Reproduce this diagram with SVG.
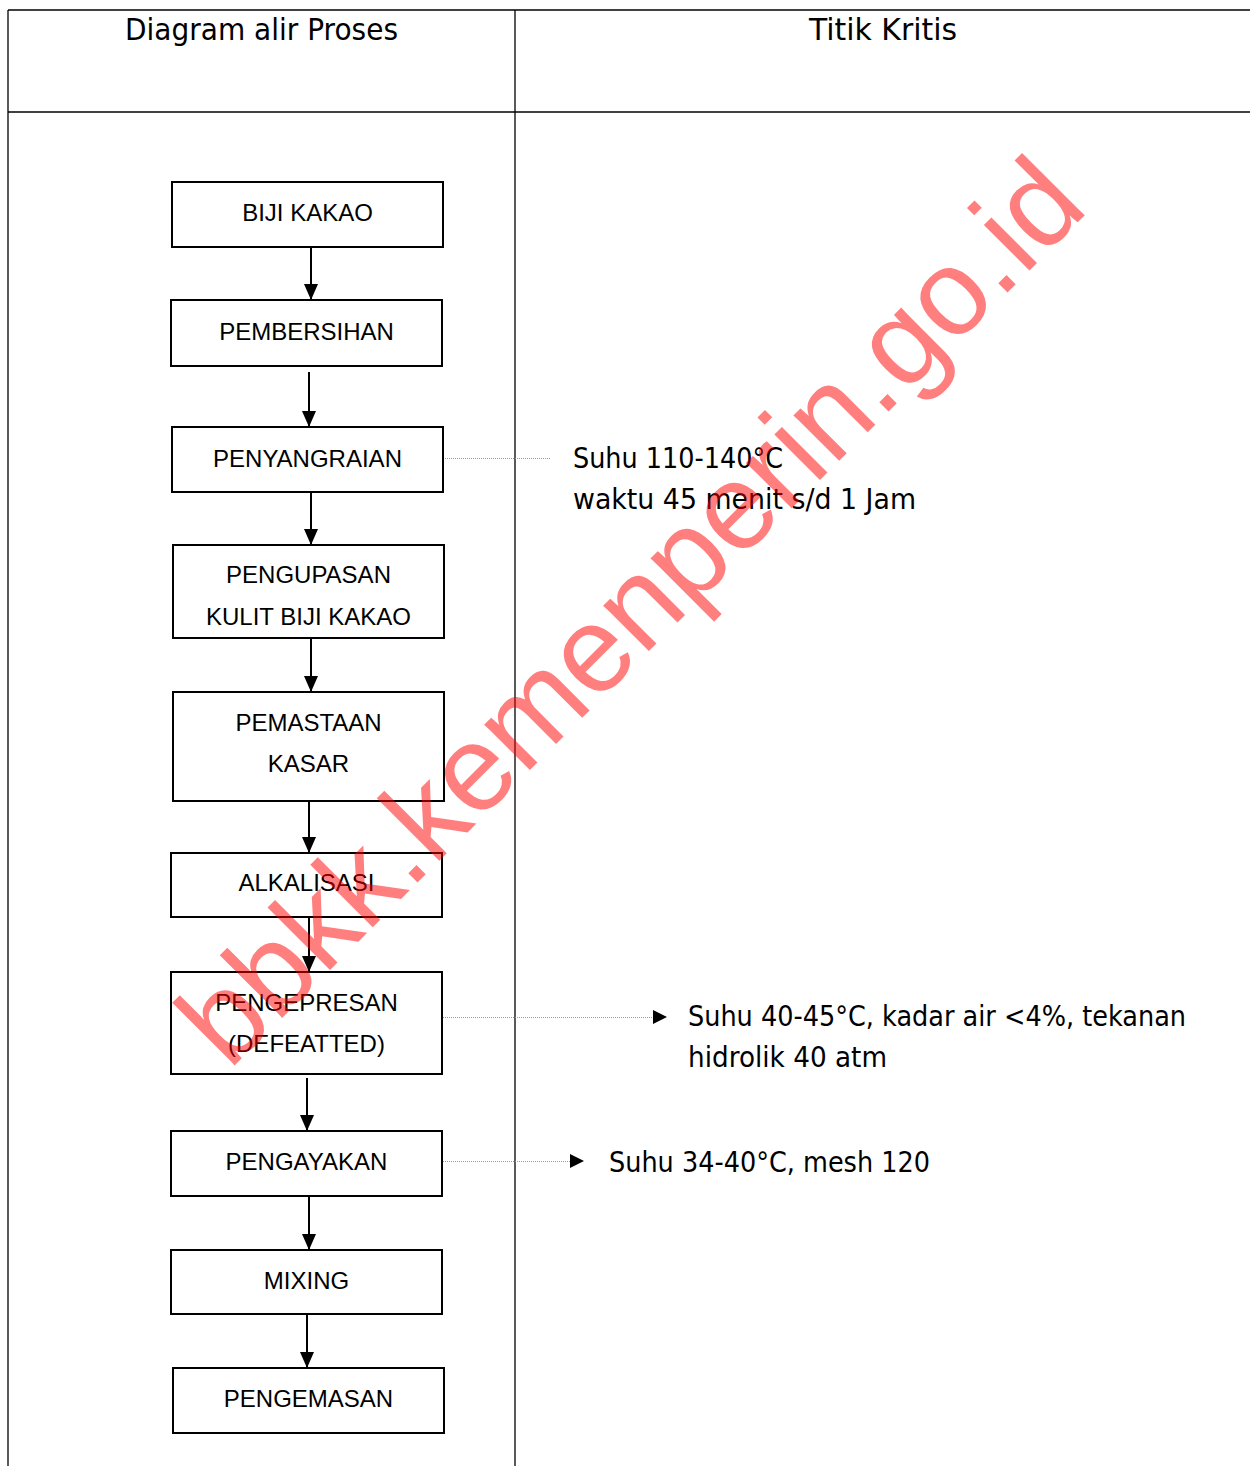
<svg xmlns="http://www.w3.org/2000/svg" width="1250" height="1466" viewBox="0 0 1250 1466">
<defs>
<style>
.frame{stroke:#000;stroke-width:1.3;fill:none}
.box{fill:#fff;stroke:#000;stroke-width:2}
.bt{font-family:"Liberation Sans","Open Sans",sans-serif;font-size:24px;fill:#000;text-anchor:middle}
.ht{font-family:"DejaVu Sans","Liberation Sans",sans-serif;font-size:30px;fill:#000}
.rt{font-family:"DejaVu Sans","Liberation Sans",sans-serif;font-size:28px;fill:#000}
.flow{stroke:#000;stroke-width:2;fill:none;marker-end:url(#ah)}
.dot{stroke:#999;stroke-width:1;stroke-dasharray:1 1;fill:none}
.wm{font-family:"Liberation Sans","DejaVu Sans",sans-serif;font-size:122px;fill:#ff0000;fill-opacity:0.5}
</style>
<marker id="ah" markerUnits="userSpaceOnUse" markerWidth="16" markerHeight="18" refX="16" refY="7" orient="auto">
<path d="M0,0 L16,7 L0,14 Z" fill="#000"/>
</marker>
</defs>
<rect width="1250" height="1466" fill="#fff"/>
<g id="table">
<line class="frame" x1="8" y1="10" x2="1250" y2="10"/>
<line class="frame" x1="8" y1="112" x2="1250" y2="112"/>
<line class="frame" x1="8" y1="10" x2="8" y2="1466"/>
<line class="frame" x1="515" y1="10" x2="515" y2="1466"/>
<text class="ht" x="125" y="40" textLength="273" lengthAdjust="spacingAndGlyphs">Diagram alir Proses</text>
<text class="ht" x="809" y="40" textLength="148" lengthAdjust="spacingAndGlyphs">Titik Kritis</text>
</g>
<g id="connectors">
<line class="flow" x1="311" y1="247" x2="311" y2="300"/>
<line class="flow" x1="309" y1="372" x2="309" y2="427"/>
<line class="flow" x1="311" y1="492" x2="311" y2="545"/>
<line class="flow" x1="311" y1="638" x2="311" y2="692"/>
<line class="flow" x1="309" y1="801" x2="309" y2="853"/>
<line class="flow" x1="309" y1="917" x2="309" y2="972"/>
<line class="flow" x1="307" y1="1078" x2="307" y2="1131"/>
<line class="flow" x1="309" y1="1196" x2="309" y2="1250"/>
<line class="flow" x1="307" y1="1314" x2="307" y2="1368"/>
<line class="dot" x1="443" y1="458.5" x2="551" y2="458.5"/>
<line class="dot" x1="443" y1="1017.5" x2="654" y2="1017.5"/>
<polygon points="653,1010 667,1017 653,1024" fill="#000"/>
<line class="dot" x1="443" y1="1161.5" x2="571" y2="1161.5"/>
<polygon points="570,1154 584,1161 570,1168" fill="#000"/>
</g>
<g id="n1"><rect class="box" x="172" y="182" width="271" height="65"/><text class="bt" x="307.5" y="221">BIJI KAKAO</text></g>
<g id="n2"><rect class="box" x="171" y="300" width="271" height="66"/><text class="bt" x="306.5" y="340">PEMBERSIHAN</text></g>
<g id="n3"><rect class="box" x="172" y="427" width="271" height="65"/><text class="bt" x="307.5" y="467">PENYANGRAIAN</text></g>
<g id="n4"><rect class="box" x="173" y="545" width="271" height="93"/><text class="bt" x="308.5" y="583">PENGUPASAN</text><text class="bt" x="308.5" y="625">KULIT BIJI KAKAO</text></g>
<g id="n5"><rect class="box" x="173" y="692" width="271" height="109"/><text class="bt" x="308.5" y="731">PEMASTAAN</text><text class="bt" x="308.5" y="772">KASAR</text></g>
<g id="n6"><rect class="box" x="171" y="853" width="271" height="64"/><text class="bt" x="306.5" y="891">ALKALISASI</text></g>
<g id="n7"><rect class="box" x="171" y="972" width="271" height="102"/><text class="bt" x="306.5" y="1011">PENGEPRESAN</text><text class="bt" x="306.5" y="1052">(DEFEATTED)</text></g>
<g id="n8"><rect class="box" x="171" y="1131" width="271" height="65"/><text class="bt" x="306.5" y="1170">PENGAYAKAN</text></g>
<g id="n9"><rect class="box" x="171" y="1250" width="271" height="64"/><text class="bt" x="306.5" y="1289">MIXING</text></g>
<g id="n10"><rect class="box" x="173" y="1368" width="271" height="65"/><text class="bt" x="308.5" y="1407">PENGEMASAN</text></g>
<g id="notes">
<text class="rt" x="573" y="468" textLength="210" lengthAdjust="spacingAndGlyphs">Suhu 110-140°C</text>
<text class="rt" x="573" y="509" textLength="343" lengthAdjust="spacingAndGlyphs">waktu 45 menit s/d 1 Jam</text>
<text class="rt" x="688" y="1026" textLength="498" lengthAdjust="spacingAndGlyphs">Suhu 40-45°C, kadar air &lt;4%, tekanan</text>
<text class="rt" x="688" y="1067" textLength="199" lengthAdjust="spacingAndGlyphs">hidrolik 40 atm</text>
<text class="rt" x="609" y="1172" textLength="321" lengthAdjust="spacingAndGlyphs">Suhu 34-40°C, mesh 120</text>
</g>
<g id="watermark">
<text class="wm" x="0" y="0" transform="translate(229,1071) rotate(-45)" textLength="1218" lengthAdjust="spacingAndGlyphs">bbkk.kemenperin.go.id</text>
</g>
</svg>
